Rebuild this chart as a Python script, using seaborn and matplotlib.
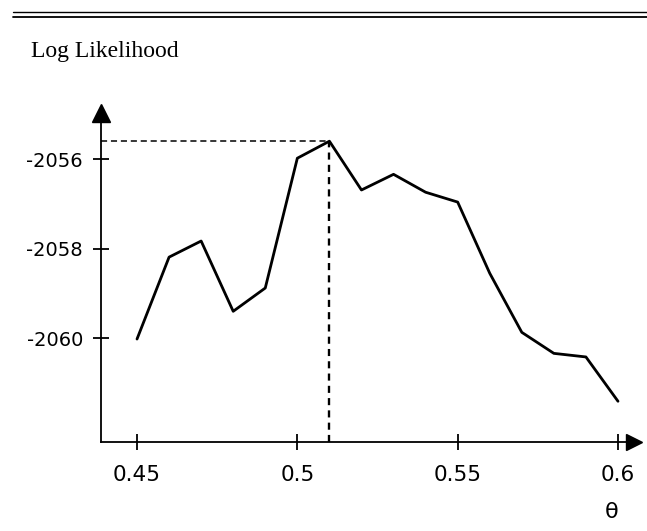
import numpy as np
import matplotlib
matplotlib.use("Agg")
import matplotlib.pyplot as plt
import seaborn as sns
import pandas as pd
from matplotlib.lines import Line2D

# valeurs
theta = [0.45, 0.46, 0.47, 0.48, 0.49, 0.50, 0.51, 0.52,
         0.53, 0.54, 0.55, 0.56, 0.57, 0.58, 0.59, 0.60]
log_lik = [-2060.02, -2058.19, -2057.83, -2059.40, -2058.88, -2055.98,
           -2055.60, -2056.69, -2056.34, -2056.74, -2056.96, -2058.55,
           -2059.87, -2060.34, -2060.42, -2061.41]
x_ticks = [0.45, 0.5, 0.55, 0.6]
x_tick_labels = ["0.45", "0.5", "0.55", "0.6"]
y_ticks = [-2056, -2058, -2060]
y_tick_labels = ["-2056", "-2058", "-2060"]

sns.set_theme(style="white")
plt.rcParams["font.family"] = ["DejaVu Sans"]
plt.rcParams["axes.unicode_minus"] = False
plt.rcParams["text.color"] = "black"

df = pd.DataFrame({"theta": theta, "loglik": log_lik})

fig = plt.figure(figsize=(6.47, 5.31), dpi=100)
ax = fig.add_axes([101 / 647, 89 / 531, 533 / 647, 329 / 531])

sns.lineplot(data=df, x="theta", y="loglik", ax=ax, color="black", linewidth=2.0)

xmin, xmax = 0.43877, 0.60499
ymin, ymax = -2062.32, -2054.97
ax.set_xlim(xmin, xmax)
ax.set_ylim(ymin, ymax)

# maximum en pointillés
i = int(np.argmax(log_lik))
ax.hlines(log_lik[i], xmin, theta[i], colors="black",
          linestyles=(0, (4, 2.5)), linewidth=1.1)
ax.vlines(theta[i], ymin, log_lik[i], colors="black",
          linestyles=(0, (3, 2.2)), linewidth=1.7)

# axes avec flèches
for side in ["top", "right"]:
    ax.spines[side].set_visible(False)
for side in ["left", "bottom"]:
    ax.spines[side].set_color("black")
    ax.spines[side].set_linewidth(1.3)
ax.plot(1, 0, ">", color="black", mec="black", transform=ax.transAxes,
        clip_on=False, markersize=12)
ax.plot(0, 1, "^", color="black", mec="black", transform=ax.transAxes,
        clip_on=False, markersize=13.5)

ax.set_xticks(x_ticks, x_tick_labels)
ax.set_yticks(y_ticks, y_tick_labels)
ax.tick_params(axis="both", direction="inout", length=11, width=1.3,
               colors="black", bottom=True, left=True)
ax.tick_params(axis="x", labelsize=15.5, pad=11)
ax.tick_params(axis="y", labelsize=14, pad=7.5)
ax.set_xlabel("")
ax.set_ylabel("")

# double trait en haut
fig.add_artist(Line2D([13 / 647, 1], [1 - 12 / 531] * 2, color="black", linewidth=1.0))
fig.add_artist(Line2D([13 / 647, 1], [1 - 16.5 / 531] * 2, color="black", linewidth=1.3))

fig.text(31 / 647, 1 - 57 / 531, "Log Likelihood", family="Liberation Serif",
         fontsize=17, va="baseline", ha="left", color="black")
fig.text(612 / 647, 1 - 512 / 531, "θ", fontsize=16, ha="center", va="center",
         color="black")

fig.savefig("out.png", dpi=100)
